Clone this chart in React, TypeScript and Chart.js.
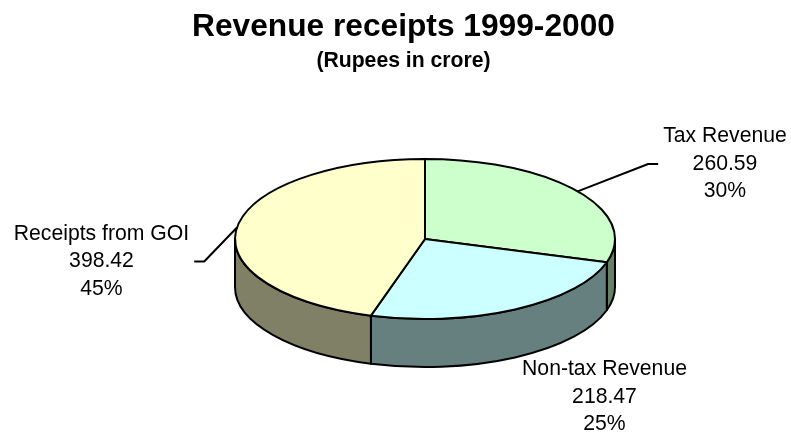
import React, { useEffect, useRef } from "react";
import { Chart, registerables } from "chart.js";

Chart.register(...registerables);

// ---- data ----
const CATEGORIES = ["Tax Revenue", "Non-tax Revenue", "Receipts from GOI"];
const VALUES = [260.59, 218.47, 398.42];
const TITLE = "Revenue receipts 1999-2000";
const SUBTITLE = "(Rupees in crore)";

// ---- styles ----
const TOP_COLORS = ["#CCFFCC", "#CCFFFF", "#FFFFCC"];
const WALL_COLORS = ["#668066", "#668080", "#808066"];
const FONT = "'Liberation Sans', Arial, Helvetica, sans-serif";

// label placement relative to the pie centre (layout only)
const LABEL_OFFSETS = [
  [300, -75],
  [179.5, 158],
  [-323.5, 22.5],
];
const LEADERS = [true, false, true];

const pie3d = {
  id: "pie3d",
  beforeDatasetsDraw(chart: any, _args: any, opts: any) {
    const meta = chart.getDatasetMeta(0);
    const arcs = meta.data;
    if (!arcs.length) return false;
    const ctx = chart.ctx as CanvasRenderingContext2D;
    const cx = arcs[0].x + opts.dx;
    const cy = arcs[0].y;
    const rx = opts.rx, ry = opts.ry, d = opts.depth;
    const TWO_PI = Math.PI * 2;
    ctx.save();
    ctx.lineWidth = opts.lineWidth;
    ctx.strokeStyle = "#000";
    ctx.lineJoin = "round";

    // side walls (front half only)
    arcs.forEach((arc: any, i: number) => {
      const s = arc.startAngle, e = arc.endAngle;
      for (let k = -1; k <= 1; k++) {
        const lo = Math.max(s, TWO_PI * k);
        const hi = Math.min(e, Math.PI + TWO_PI * k);
        if (hi - lo > 1e-6) {
          ctx.beginPath();
          ctx.ellipse(cx, cy, rx, ry, 0, lo, hi, false);
          ctx.ellipse(cx, cy + d, rx, ry, 0, hi, lo, true);
          ctx.closePath();
          ctx.fillStyle = WALL_COLORS[i];
          ctx.fill();
          ctx.stroke();
        }
      }
    });

    // top faces
    arcs.forEach((arc: any) => {
      ctx.beginPath();
      ctx.moveTo(cx, cy);
      ctx.ellipse(cx, cy, rx, ry, 0, arc.startAngle, arc.endAngle, false);
      ctx.closePath();
      ctx.fillStyle = arc.options.backgroundColor;
      ctx.fill();
      ctx.stroke();
    });

    // labels + leader lines
    const total = VALUES.reduce((a, b) => a + b, 0);
    ctx.font = `${opts.labelSize}px ${FONT}`;
    ctx.fillStyle = "#000";
    ctx.textAlign = "center";
    ctx.textBaseline = "middle";
    arcs.forEach((arc: any, i: number) => {
      const v = VALUES[i];
      const lines = [CATEGORIES[i], v.toFixed(2), Math.round((v / total) * 100) + "%"];
      const ax = cx + LABEL_OFFSETS[i][0];
      const ay = cy + LABEL_OFFSETS[i][1];
      lines.forEach((t, j) => ctx.fillText(t, ax, ay + (j - 1) * opts.lineGap));
      if (LEADERS[i]) {
        const w = Math.max(...lines.map((t) => ctx.measureText(t).width));
        const mid = (arc.startAngle + arc.endAngle) / 2;
        const px = cx + rx * Math.cos(mid);
        const py = cy + ry * Math.sin(mid);
        const side = ax > cx ? -1 : 1;
        const ex = ax + side * (w / 2 + 5);
        const bx = ex + side * 10;
        ctx.beginPath();
        ctx.moveTo(ex, ay);
        ctx.lineTo(bx, ay);
        ctx.lineTo(px, py);
        ctx.stroke();
      }
    });

    ctx.restore();
    return false;
  },
};

export default function App() {
  const ref = useRef<HTMLCanvasElement | null>(null);
  useEffect(() => {
    if (!ref.current) return;
    const chart = new Chart(ref.current, {
      type: "pie",
      data: {
        labels: CATEGORIES,
        datasets: [
          {
            data: VALUES,
            backgroundColor: TOP_COLORS,
            borderWidth: 0,
          },
        ],
      },
      options: {
        responsive: true,
        maintainAspectRatio: false,
        animation: false,
        events: [],
        layout: { padding: { left: 16, right: 0, top: 0, bottom: 28.2 } },
        plugins: {
          legend: { display: false },
          tooltip: { enabled: false },
          title: {
            display: true,
            text: TITLE,
            color: "#000",
            font: { family: FONT, size: 31.7, weight: "bold", lineHeight: 1.2 },
            padding: { top: 8.5, bottom: 0 },
          },
          subtitle: {
            display: true,
            text: SUBTITLE,
            color: "#000",
            font: { family: FONT, size: 21.2, weight: "bold", lineHeight: 1.2 },
            padding: { top: 2.2, bottom: 0 },
          },
          pie3d: { dx: 21.5, rx: 190, ry: 80, depth: 48, lineWidth: 2, labelSize: 21.2, lineGap: 27.5 },
        } as any,
      },
      plugins: [pie3d as any],
    });
    return () => chart.destroy();
  }, []);
  return (
    <div style={{ position: "fixed", left: 0, top: 0, width: 791, height: 432, background: "#fff" }}>
      <canvas ref={ref} />
    </div>
  );
}
